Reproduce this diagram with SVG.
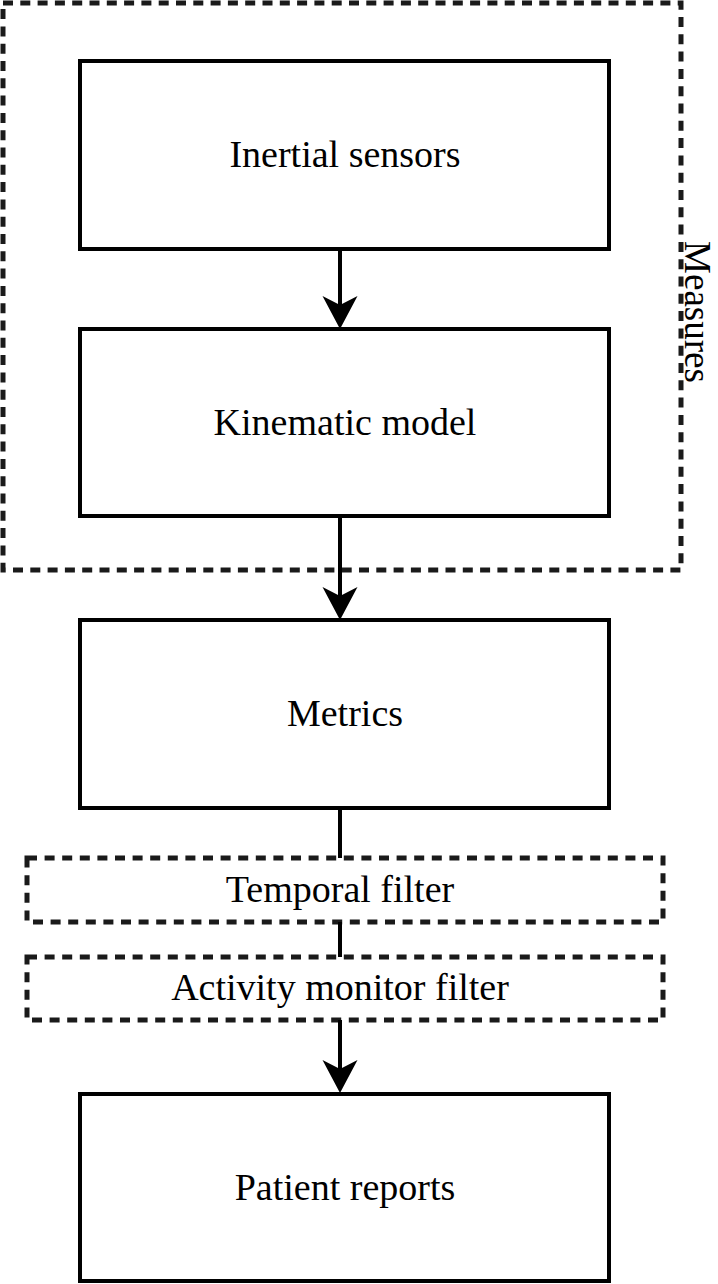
<svg xmlns="http://www.w3.org/2000/svg" width="718" height="1284" viewBox="0 0 718 1284">
<style>
.box{fill:#fff;stroke:#000;stroke-width:4}
.dash{fill:none;stroke:#1a1a1a;stroke-width:5;stroke-dasharray:10 7.3}
.fbox{fill:#fff;stroke:#1a1a1a;stroke-width:5;stroke-dasharray:10 7.6}
.lbl{font-family:"Liberation Serif","Times New Roman",serif;font-size:38px;fill:#000;text-anchor:middle}
.side{font-family:"Liberation Serif","Times New Roman",serif;font-size:37px;fill:#000;text-anchor:middle}
.con{fill:none;stroke:#000;stroke-width:4}
</style>
<defs>
<marker id="arr" markerUnits="userSpaceOnUse" markerWidth="34" markerHeight="36" viewBox="0 0 34 36" refX="9" refY="18" orient="auto">
<path d="M0,0.5 L33,18 L0,35.5 L9,18 Z" fill="#000"/>
</marker>
</defs>
<rect width="718" height="1284" fill="#fff"/>
<g id="measures">
<rect class="dash" x="3" y="3" width="678" height="567"/>
<text class="side" transform="translate(685,312) rotate(90)">Measures</text>
</g>
<g id="inertial-sensors">
<rect class="box" x="80" y="61" width="529" height="188"/>
<text class="lbl" x="345" y="167">Inertial sensors</text>
</g>
<g id="kinematic-model">
<rect class="box" x="80" y="329" width="529" height="187"/>
<text class="lbl" x="345" y="435">Kinematic model</text>
</g>
<g id="metrics">
<rect class="box" x="80" y="620" width="529" height="188"/>
<text class="lbl" x="345" y="726">Metrics</text>
</g>
<g id="temporal-filter">
<rect class="fbox" x="27" y="858" width="636" height="64"/>
<text class="lbl" x="340" y="902">Temporal filter</text>
</g>
<g id="activity-monitor-filter">
<rect class="fbox" x="27" y="957" width="636" height="63"/>
<text class="lbl" x="340" y="1000">Activity monitor filter</text>
</g>
<g id="patient-reports">
<rect class="box" x="80" y="1094" width="529" height="187"/>
<text class="lbl" x="345" y="1200">Patient reports</text>
</g>
<g id="connectors">
<line class="con" x1="340" y1="249" x2="340" y2="305" marker-end="url(#arr)"/>
<line class="con" x1="340" y1="516" x2="340" y2="596" marker-end="url(#arr)"/>
<line class="con" x1="340" y1="808" x2="340" y2="858"/>
<line class="con" x1="340" y1="922" x2="340" y2="957"/>
<line class="con" x1="340" y1="1020" x2="340" y2="1069" marker-end="url(#arr)"/>
</g>
</svg>
